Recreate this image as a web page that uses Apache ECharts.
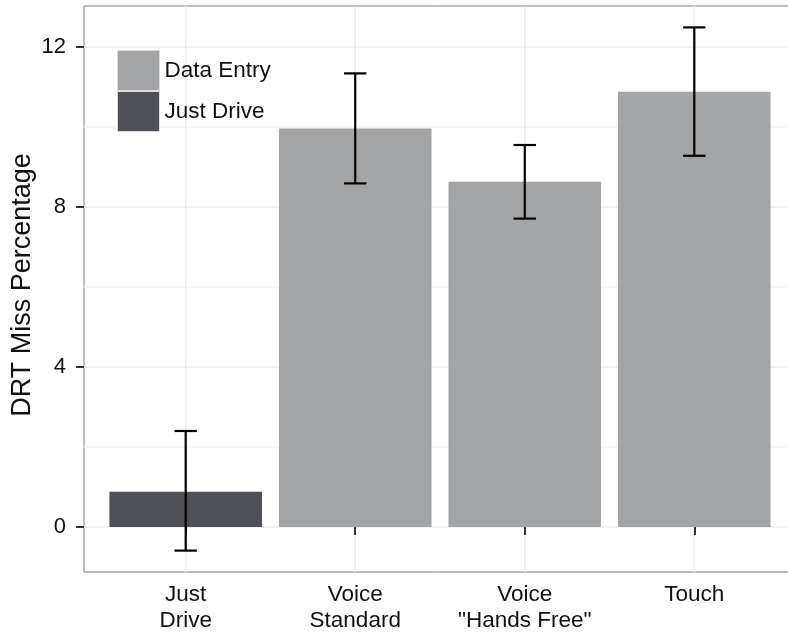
<!DOCTYPE html>
<html>
<head>
<meta charset="utf-8">
<script src="https://cdn.jsdelivr.net/npm/echarts@6/dist/echarts.min.js"></script>
<style>
html,body{margin:0;padding:0;background:#fff;}
#chart{width:788px;height:633px;}
</style>
</head>
<body>
<div id="chart"></div>
<script>
// ---- data ----
const categories = ['Just\nDrive', 'Voice\nStandard', 'Voice\n"Hands Free"', 'Touch'];
const groups = ['Just Drive', 'Data Entry', 'Data Entry', 'Data Entry'];
const means = [0.88, 9.96, 8.63, 10.88];
const lower = [-0.59, 8.59, 7.71, 9.28];
const upper = [2.4, 11.34, 9.55, 12.49];
const yTicks = [0, 4, 8, 12];
const yMinor = [2, 6, 10];
const legendNames = ['Data Entry', 'Just Drive'];

// ---- styles ----
const FONT = '"Liberation Sans", Arial, Helvetica, sans-serif';
const colors = { 'Data Entry': '#a3a4a6', 'Just Drive': '#4f5056' };
const BAR_HALF = 0.45;
const CAP_HALF = 0.066;

function seriesData(name) {
  const out = [];
  categories.forEach((c, i) => {
    if (groups[i] === name) out.push([i + 1, means[i], lower[i], upper[i]]);
  });
  return out;
}

function renderBar(params, api) {
  const x = api.value(0), m = api.value(1), lo = api.value(2), hi = api.value(3);
  const tl = api.coord([x - BAR_HALF, m]);
  const br = api.coord([x + BAR_HALF, 0]);
  const top = api.coord([x, hi]);
  const bot = api.coord([x, lo]);
  const cl = api.coord([x - CAP_HALF, hi]);
  const cr = api.coord([x + CAP_HALF, hi]);
  const bl = api.coord([x - CAP_HALF, lo]);
  const brr = api.coord([x + CAP_HALF, lo]);
  const es = { stroke: '#000', lineWidth: 2.2 };
  return {
    type: 'group',
    children: [
      { type: 'rect', shape: { x: tl[0], y: tl[1], width: br[0] - tl[0], height: br[1] - tl[1] },
        style: { fill: api.visual('color') } },
      { type: 'line', shape: { x1: top[0], y1: top[1], x2: bot[0], y2: bot[1] }, style: es },
      { type: 'line', shape: { x1: cl[0], y1: cl[1], x2: cr[0], y2: cr[1] }, style: es },
      { type: 'line', shape: { x1: bl[0], y1: bl[1], x2: brr[0], y2: brr[1] }, style: es }
    ]
  };
}

function renderHLine(color, width) {
  return function (params, api) {
    const v = api.value(1);
    const a = api.coord([0.4, v]);
    const b = api.coord([4.6, v]);
    return { type: 'line', shape: { x1: a[0], y1: a[1], x2: b[0], y2: b[1] }, style: { stroke: color, lineWidth: width } };
  };
}
function renderVLine(params, api) {
  const v = api.value(0);
  const a = api.coord([v, -1.125]);
  const b = api.coord([v, 13.025]);
  return { type: 'line', shape: { x1: a[0], y1: a[1], x2: b[0], y2: b[1] }, style: { stroke: '#ebebeb', lineWidth: 1.5 } };
}

const chart = echarts.init(document.getElementById('chart'), null, { renderer: 'canvas' });
chart.setOption({
  animation: false,
  backgroundColor: '#fff',
  textStyle: { fontFamily: FONT },
  grid: { left: 84, top: 6, width: 712, height: 566, outerBoundsMode: 'none', containLabel: false,
          show: true, borderColor: '#7f7f7f', borderWidth: 1, backgroundColor: 'transparent' },
  legend: {
    data: legendNames,
    orient: 'vertical',
    left: 117, top: 50,
    padding: 0,
    itemGap: 0,
    itemWidth: 42,
    itemHeight: 40,
    icon: 'rect',
    itemStyle: { borderColor: '#dcdcdc', borderWidth: 1 },
    textStyle: { fontSize: 22.5, color: '#111', fontFamily: FONT }
  },
  xAxis: {
    type: 'value', min: 0.4, max: 4.6,
    axisLine: { show: false },
    splitLine: { show: false },
    axisTick: { show: true, customValues: [1, 2, 3, 4], length: 8, lineStyle: { color: '#333', width: 2 } },
    axisLabel: {
      customValues: [1, 2, 3, 4],
      formatter: v => categories[Math.round(v) - 1] || '',
      fontSize: 22.5, color: '#111', lineHeight: 26, margin: 10, fontFamily: FONT
    }
  },
  yAxis: {
    type: 'value', min: -1.125, max: 13.025,
    name: 'DRT Miss Percentage',
    nameLocation: 'middle', nameRotate: 90, nameGap: 48, nameMoveOverlap: false,
    nameTextStyle: { fontSize: 27, color: '#111', fontFamily: FONT, padding: [0, 0, 0, 8] },
    axisLine: { show: false },
    splitLine: { show: false },
    axisTick: { show: true, customValues: yTicks, length: 8, lineStyle: { color: '#333', width: 2 } },
    axisLabel: { customValues: yTicks, fontSize: 22, color: '#111', margin: 18, fontFamily: FONT }
  },
  series: [
    { type: 'custom', name: 'minorGrid', silent: true, z: 0, renderItem: renderHLine('#f3f3f3', 1.5),
      data: yMinor.map(v => [1, v]) },
    { type: 'custom', name: 'majorGridY', silent: true, z: 0, renderItem: renderHLine('#ebebeb', 1.5),
      data: yTicks.map(v => [1, v]) },
    { type: 'custom', name: 'majorGridX', silent: true, z: 0, renderItem: renderVLine,
      data: categories.map((c, i) => [i + 1, 0]) },
    { type: 'custom', name: 'Just Drive', z: 2, itemStyle: { color: colors['Just Drive'] },
      renderItem: renderBar, encode: { x: 0, y: 1 }, data: seriesData('Just Drive') },
    { type: 'custom', name: 'Data Entry', z: 2, itemStyle: { color: colors['Data Entry'] },
      renderItem: renderBar, encode: { x: 0, y: 1 }, data: seriesData('Data Entry') }
  ]
});
</script>
</body>
</html>
